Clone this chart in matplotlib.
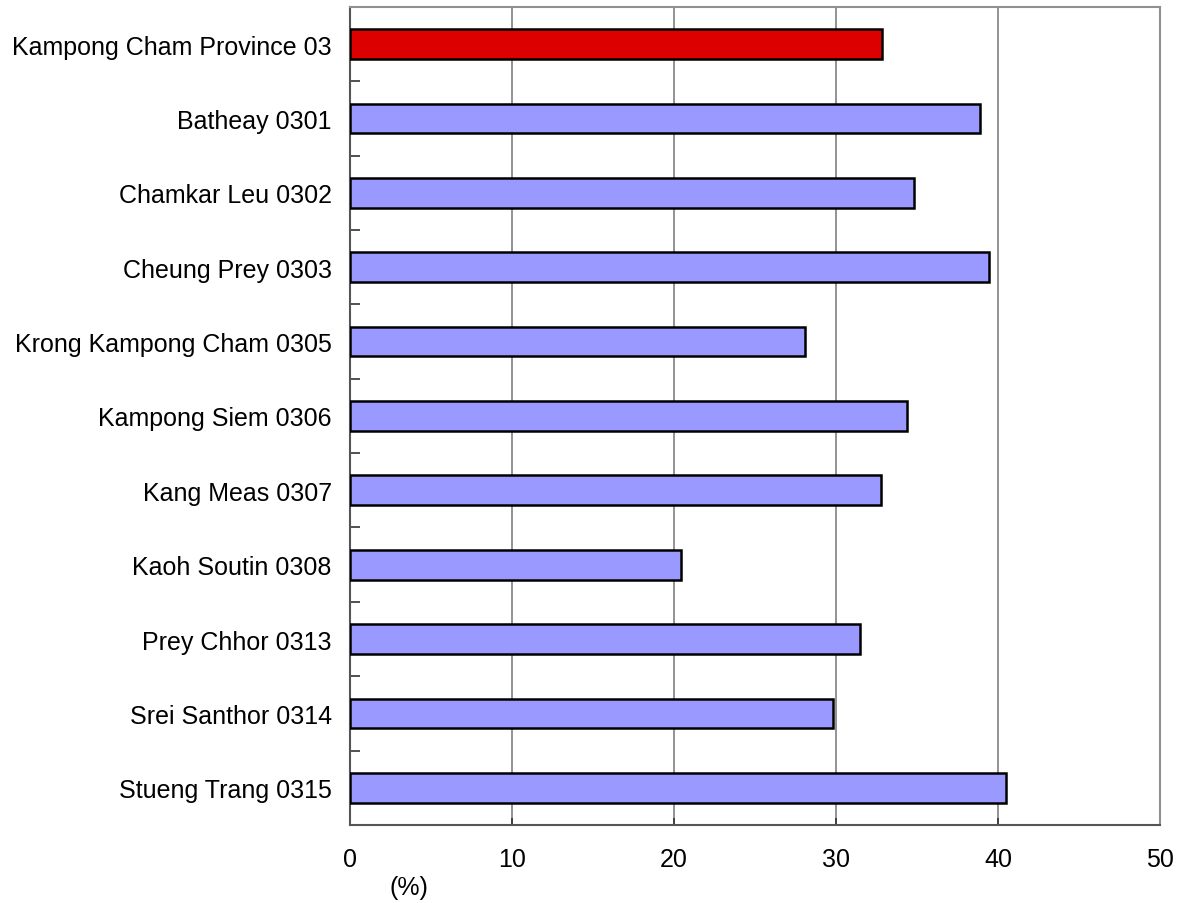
import matplotlib
matplotlib.use('Agg')
import matplotlib.pyplot as plt
import numpy as np

plt.rcParams['font.family'] = ['Liberation Sans', 'DejaVu Sans']

districts = ['Kampong Cham Province 03', 'Batheay 0301', 'Chamkar Leu 0302',
             'Cheung Prey 0303', 'Krong Kampong Cham 0305', 'Kampong Siem 0306',
             'Kang Meas 0307', 'Kaoh Soutin 0308', 'Prey Chhor 0313',
             'Srei Santhor 0314', 'Stueng Trang 0315']
values = [32.8, 38.9, 34.8, 39.4, 28.1, 34.4, 32.75, 20.4, 31.5, 29.8, 40.5]
xticks = [0, 10, 20, 30, 40, 50]

fig = plt.figure(figsize=(11.78, 9.04), dpi=100)
ax = fig.add_axes([0.297, 0.0863, 0.688, 0.905])

colors = ['#DD0000'] + ['#9999FF'] * (len(values) - 1)
pos = np.arange(len(values))
ax.barh(pos, values, height=0.4, color=colors, edgecolor='black',
        linewidth=1.8, zorder=3)

ax.set_xlim(0, 50)
ax.set_ylim(len(values) - 0.5, -0.5)
ax.set_xticks(xticks)
ax.set_xticklabels([str(t) for t in xticks], fontsize=18)
ax.set_yticks(pos)
ax.set_yticklabels(districts, fontsize=18)
ax.tick_params(axis='y', which='major', length=0, pad=13)
ax.tick_params(axis='x', which='major', direction='in', length=5, pad=16,
               color='#333333', width=1.2)
ax.set_yticks(np.arange(-0.5, len(values) - 0.5, 1), minor=True)
ax.tick_params(axis='y', which='minor', direction='in', length=7,
               color='#333333', width=1.2)

ax.grid(axis='x', color='#808080', linewidth=1.2, zorder=0)
for s in ['top', 'right']:
    ax.spines[s].set_color('#909090')
    ax.spines[s].set_linewidth(1.5)
for s in ['left', 'bottom']:
    ax.spines[s].set_color('#555555')
    ax.spines[s].set_linewidth(1.5)

fig.text(0.331, 0.010, '(%)', fontsize=18)

fig.savefig('out.png', dpi=100)
